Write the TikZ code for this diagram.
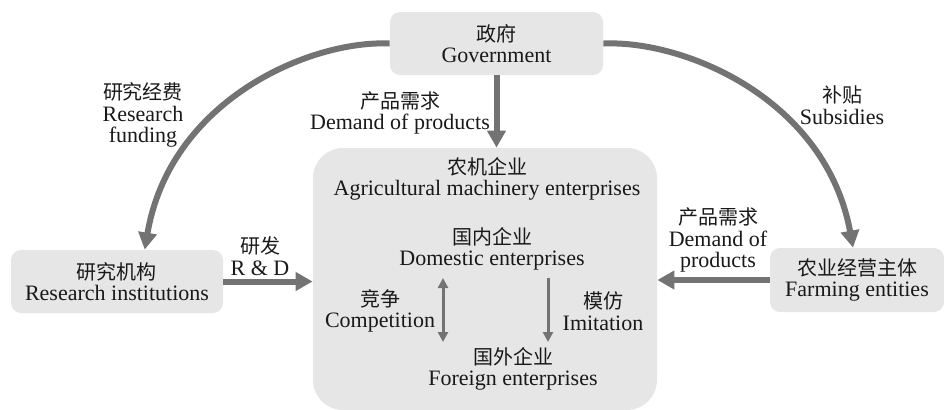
\documentclass[tikz,border=0pt]{standalone}
\usepackage{fontspec}
\setmainfont{Liberation Serif}
\newfontfamily\cjk{Noto Sans CJK SC}
\usetikzlibrary{arrows.meta}
\definecolor{boxfill}{RGB}{230,230,230}
\definecolor{arrowc}{RGB}{115,115,115}
\definecolor{txt}{RGB}{25,25,25}
\newcommand{\zh}[1]{{\cjk\fontsize{10}{12}\selectfont #1}}
\begin{document}
\begin{tikzpicture}[x=0.5pt,y=-0.5pt,
  box/.style={fill=boxfill, rounded corners=5pt, draw=none, text=txt, align=center,
    font=\fontsize{11}{10.8}\selectfont, inner sep=0pt},
  lbl/.style={text=txt, align=center, font=\fontsize{11}{10.8}\selectfont, inner sep=0pt},
  bigarrow/.style={draw=arrowc, line width=3pt, -{Triangle[width=9pt,length=8.5pt]}},
  thinarrow/.style={draw=arrowc, line width=1.5pt}
]
\useasboundingbox (0,0) rectangle (944,409);

% boxes
\node[box, minimum width=106.5pt, minimum height=31.5pt] (gov) at (496.5,43.5) {\zh{政府}\\Government};
\node[box, rounded corners=15pt, minimum width=172pt, minimum height=131pt] (main) at (485,279) {};
\node[box, minimum width=106pt, minimum height=31.5pt] (ri) at (117,281.5) {\zh{研究机构}\\Research institutions};
\node[box, minimum width=87pt, minimum height=32pt] (fe) at (857,280) {\zh{农业经营主体}\\Farming entities};

% inner texts
\node[lbl] (agri) at (487,179) {\zh{农机企业}\\Agricultural machinery enterprises};
\node[lbl] (dom) at (492,249) {\zh{国内企业}\\Domestic enterprises};
\node[lbl] (for) at (513,369) {\zh{国外企业}\\Foreign enterprises};
\node[lbl] (comp) at (380,311) {\zh{竞争}\\Competition};
\node[lbl] (imit) at (603,311) {\zh{模仿}\\Imitation};

% outer labels
\node[lbl] (dem1) at (400,113) {\zh{产品需求}\\Demand of products};
\node[lbl] (fund) at (143,115) {\zh{研究经费}\\Research\\funding};
\node[lbl] (subs) at (842,105) {\zh{补贴}\\Subsidies};
\node[lbl] (rd) at (260,256) {\zh{研发}\\R \& D};
\node[lbl] (dem2) at (718,240) {\zh{产品需求}\\Demand of\\products};

% coordinates for inner arrows
\coordinate (cA) at (443,278);
\coordinate (cB) at (443,342);
\coordinate (iA) at (548,278);
\coordinate (iB) at (548,342);

% connectors
\draw[bigarrow] (gov.south) -- (gov.south |- main.north);
\draw[bigarrow] (ri.east) -- (ri.east -| main.west);
\draw[bigarrow] (fe.west) -- (fe.west -| main.east);
\draw[bigarrow] (gov.west) .. controls (310,40) and (170,100) .. (ri.49.4);
\draw[bigarrow] (gov.east) .. controls (686,40) and (826,100) .. (fe.97);
\draw[thinarrow, {Triangle[width=5pt,length=5pt]}-{Triangle[width=5pt,length=5pt]}] (cA) -- (cB);
\draw[thinarrow, -{Triangle[width=5pt,length=5pt]}] (iA) -- (iB);
\end{tikzpicture}
\end{document}
